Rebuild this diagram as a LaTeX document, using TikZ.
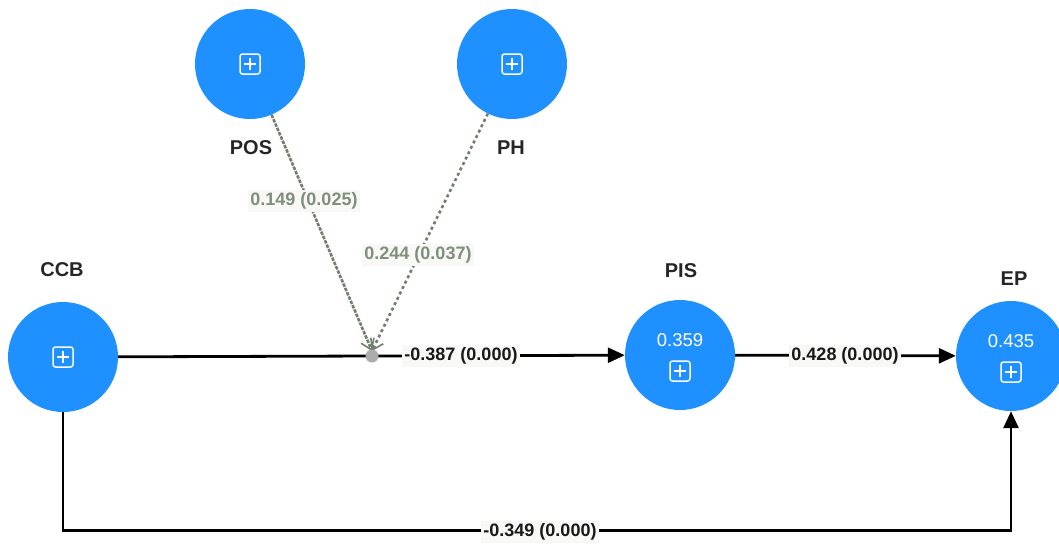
\documentclass[tikz,border=0pt]{standalone}
\usepackage{fontspec}
\setmainfont{Liberation Sans}
\usetikzlibrary{arrows.meta}
\definecolor{nodeblue}{RGB}{30,144,255}
\definecolor{modline}{RGB}{112,126,108}
\definecolor{modtext}{RGB}{128,142,124}
\definecolor{dotgray}{RGB}{172,172,172}
\definecolor{labbg}{RGB}{248,248,246}
\tikzset{
  lv/.style={circle, fill=nodeblue, minimum size=110pt, inner sep=0pt},
  lvname/.style={font=\bfseries\fontsize{20}{22}\selectfont, text=black!85},
  rsq/.style={text=white, font=\fontsize{18.5}{20}\selectfont},
  pathlab/.style={fill=labbg, inner sep=2.5pt, font=\bfseries\fontsize{18}{20}\selectfont, text=black!90},
  modlab/.style={fill=labbg, inner sep=2.5pt, font=\bfseries\fontsize{18}{20}\selectfont, text=modtext},
  conn/.style={line width=2.8pt, black, -{Triangle[length=17pt,width=15pt]}},
  modarrow/.style={line width=2.6pt, modline, -{Straight Barb[length=10pt,width=14pt,line width=1.6pt]}},
  plusicon/.pic={
    \draw[white, line width=1.5pt, rounded corners=2.5pt] (-10,-10) rectangle (10,10);
    \draw[white, line width=1.5pt] (-6,0) -- (6,0) (0,-6) -- (0,6);
  }
}
\begin{document}
\begin{tikzpicture}[x=1pt,y=-1pt]
\useasboundingbox (0,0) rectangle (1059,544);

% latent variables
\node[lv] (pos) at (250,64) {};
\node[lv] (ph)  at (512,64) {};
\node[lv] (ccb) at (63,357) {};
\node[lv] (pis) at (680,355) {};
\node[lv] (ep)  at (1011,356) {};

% icons and values
\pic at (pos.center) {plusicon};
\pic at (ph.center) {plusicon};
\pic at (ccb.center) {plusicon};
\pic at ([yshift=-16]pis.center) {plusicon};
\pic at ([yshift=-16]ep.center) {plusicon};
\node[rsq] (pisr) at ([yshift=15]pis.center) {0.359};
\node[rsq] (epr)  at ([yshift=15]ep.center) {0.435};

% names
\node[lvname] (posn) at (251,148) {POS};
\node[lvname] (phn)  at (511,148) {PH};
\node[lvname] (ccbn) at (62,270) {CCB};
\node[lvname] (pisn) at (681,271) {PIS};
\node[lvname] (epn)  at (1014,279) {EP};

% moderation point
\coordinate (modpt) at (372,356);

% main paths
\draw[conn] (ccb) -- (pis);
\draw[conn] (pis) -- (ep);
\draw[conn] (ccb.south) -- ++(0,118) -| (ep.south);

% moderating effects
\draw[modarrow, dash pattern=on 3.5pt off 1.2pt] (pos) -- ([yshift=5]modpt);
\draw[modarrow, dash pattern=on 3pt off 3pt] (ph) -- ([yshift=5]modpt);
\node[circle, fill=dotgray, minimum size=13pt, inner sep=0pt] (dot) at (modpt) {};

% labels
\node[pathlab] (l1) at (461,356) {-0.387 (0.000)};
\node[pathlab] (l2) at (845,356) {0.428 (0.000)};
\node[pathlab] (l3) at (540,532) {-0.349 (0.000)};
\node[modlab] (l4) at (304,201) {0.149 (0.025)};
\node[modlab] (l5) at (418,255) {0.244 (0.037)};
\end{tikzpicture}
\end{document}
